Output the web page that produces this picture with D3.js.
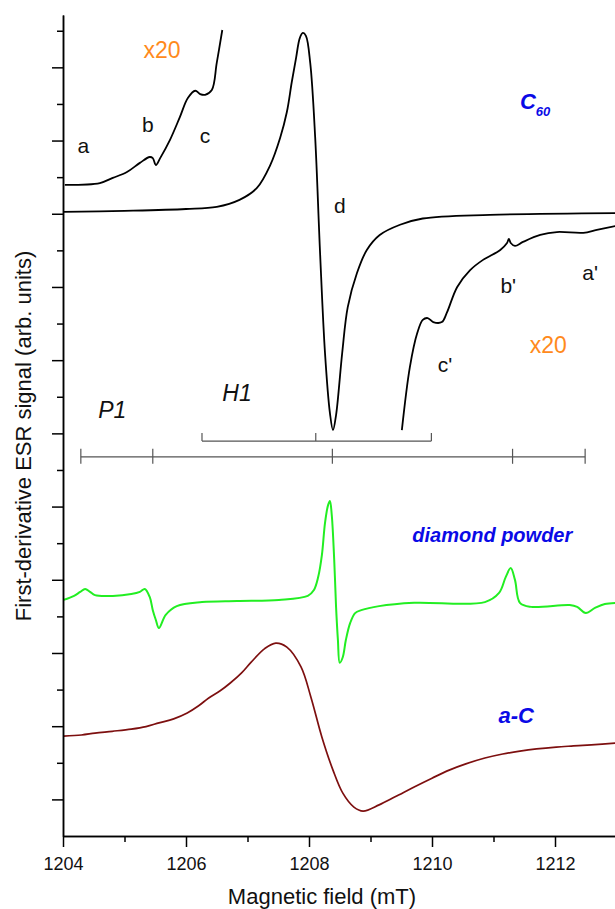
<!DOCTYPE html>
<html>
<head>
<meta charset="utf-8">
<script src="https://cdn.jsdelivr.net/npm/d3@7"></script>
<style>
  body { margin: 0; background: #fff; }
  text { font-family: "Liberation Sans", Arial, sans-serif; }
</style>
</head>
<body>
<div id="chart"></div>
<script>
// field in mT, signal in arbitrary units (one unit = one y tick step)

const c60Field = [1204.0, 1205.0, 1206.0, 1206.5, 1206.87, 1207.15, 1207.37, 1207.53, 1207.64, 1207.72,
    1207.79, 1207.85, 1207.9, 1207.95, 1208.02, 1208.1, 1208.18, 1208.26, 1208.34, 1208.39,
    1208.44, 1208.54, 1208.63, 1208.78, 1208.94, 1209.15, 1209.48, 1209.85, 1210.94, 1213.0];
const c60Signal = [17.05, 17.08, 17.13, 17.19, 17.38, 17.70, 18.33, 19.07, 19.78, 20.60,
    21.26, 21.80, 21.94, 21.86, 21.12, 19.10, 15.93, 13.20, 11.56, 11.09,
    11.50, 13.20, 14.45, 15.38, 16.01, 16.42, 16.70, 16.87, 16.97, 17.02];

const zoomLowField = [1204.03, 1204.6, 1204.81, 1205.04, 1205.25, 1205.41, 1205.46, 1205.51, 1205.58, 1205.74,
    1205.9, 1206.03, 1206.15, 1206.23, 1206.31, 1206.42, 1206.5, 1206.59];
const zoomLowSignal = [17.79, 17.84, 17.98, 18.14, 18.39, 18.55, 18.52, 18.33, 18.52, 19.02,
    19.64, 20.16, 20.36, 20.27, 20.25, 20.38, 21.12, 22.02];

const zoomHighField = [1209.51, 1209.64, 1209.76, 1209.85, 1209.93, 1210.02, 1210.16, 1210.24, 1210.41, 1210.62,
    1210.83, 1211.11, 1211.22, 1211.25, 1211.28, 1211.35, 1211.48, 1211.76, 1212.03, 1212.46,
    1212.68, 1213.0];
const zoomHighSignal = [11.09, 12.81, 13.74, 14.10, 14.15, 14.04, 14.04, 14.29, 15.00, 15.46,
    15.74, 16.01, 16.20, 16.31, 16.20, 16.12, 16.23, 16.42, 16.50, 16.48,
    16.56, 16.67];

const diamondField = [1204.01, 1204.18, 1204.28, 1204.36, 1204.44, 1204.52, 1204.81, 1205.11, 1205.25, 1205.33,
    1205.41, 1205.46, 1205.51, 1205.56, 1205.67, 1205.85, 1206.26, 1206.83, 1207.51, 1207.98,
    1208.08, 1208.15, 1208.21, 1208.26, 1208.31, 1208.34, 1208.37, 1208.41, 1208.44, 1208.47,
    1208.5, 1208.55, 1208.6, 1208.67, 1208.75, 1208.85, 1209.14, 1209.71, 1210.86, 1211.09,
    1211.2, 1211.28, 1211.35, 1211.43, 1211.61, 1212.24, 1212.36, 1212.5, 1212.65, 1212.81, 1213.0];
const diamondSignal = [6.45, 6.56, 6.67, 6.75, 6.67, 6.58, 6.56, 6.61, 6.67, 6.75,
    6.53, 6.17, 5.90, 5.68, 6.04, 6.28, 6.39, 6.42, 6.45, 6.56,
    6.72, 7.08, 7.68, 8.55, 9.04, 9.15, 8.77, 7.54, 6.26, 5.36,
    4.73, 4.89, 5.36, 5.82, 6.09, 6.17, 6.28, 6.37, 6.39, 6.64,
    7.08, 7.32, 6.99, 6.37, 6.26, 6.31, 6.26, 6.09, 6.23, 6.34, 6.37];

const aCField = [1204.01, 1204.3, 1204.52, 1204.8, 1205.11, 1205.35, 1205.56, 1205.8, 1206.02, 1206.2,
    1206.37, 1206.55, 1206.72, 1206.9, 1207.06, 1207.28, 1207.46, 1207.64, 1207.87, 1208.03,
    1208.21, 1208.39, 1208.55, 1208.73, 1208.88, 1209.14, 1209.4, 1209.71, 1210.0, 1210.28,
    1210.55, 1210.86, 1211.15, 1211.43, 1211.7, 1212.02, 1212.3, 1212.59, 1213.0];
const aCSignal = [2.73, 2.76, 2.81, 2.86, 2.92, 2.99, 3.09, 3.20, 3.36, 3.55,
    3.77, 3.96, 4.18, 4.45, 4.75, 5.12, 5.27, 5.16, 4.62, 3.80,
    2.70, 1.80, 1.17, 0.79, 0.68, 0.85, 1.07, 1.34, 1.58, 1.80,
    1.97, 2.13, 2.24, 2.32, 2.38, 2.43, 2.46, 2.49, 2.54];

// stick diagrams of line positions
const p1Lines = [1204.29, 1205.46, 1208.38, 1211.31, 1212.49];
const p1Level = 10.36;
const h1Lines = [1206.26, 1208.11, 1209.99];
const h1Level = 10.79;

const xMajorTicks = [1204, 1206, 1208, 1210, 1212];
const xMinorTicks = [1205, 1207, 1209, 1211, 1213];

const width = 615;
const height = 909;
const margin = { left: 63, right: 616.5, top: 15, bottom: 836 };

const x = d3.scaleLinear().domain([1204, 1213]).range([margin.left, margin.right]);
const y = d3.scaleLinear().domain([0, 22.43]).range([margin.bottom, margin.top]);

const svg = d3.select("#chart").append("svg")
    .attr("width", width)
    .attr("height", height);

svg.append("defs").append("clipPath")
    .attr("id", "plot-clip")
  .append("rect")
    .attr("x", margin.left).attr("y", 0)
    .attr("width", width - margin.left).attr("height", margin.bottom);

const plot = svg.append("g").attr("clip-path", "url(#plot-clip)");

function zip(xs, ys) {
    return xs.map((v, i) => [v, ys[i]]);
}

const line = d3.line()
    .x(d => x(d[0]))
    .y(d => y(d[1]))
    .curve(d3.curveCatmullRom.alpha(0.5));

const traces = [
    { data: zip(c60Field, c60Signal), color: "#000", w: 1.8 },
    { data: zip(zoomLowField, zoomLowSignal), color: "#000", w: 1.8 },
    { data: zip(zoomHighField, zoomHighSignal), color: "#000", w: 1.8 },
    { data: zip(diamondField, diamondSignal), color: "#22ee22", w: 2 },
    { data: zip(aCField, aCSignal), color: "#7d0f0f", w: 1.7 },
];

plot.selectAll("path.trace")
    .data(traces)
    .enter().append("path")
        .attr("class", "trace")
        .attr("d", d => line(d.data))
        .attr("fill", "none")
        .attr("stroke", d => d.color)
        .attr("stroke-width", d => d.w)
        .attr("stroke-linejoin", "round");

// stick diagrams
const sticks = svg.append("g")
    .attr("stroke", "#555")
    .attr("stroke-width", 1.2);

sticks.append("line")
    .attr("x1", x(d3.min(p1Lines))).attr("x2", x(d3.max(p1Lines)))
    .attr("y1", y(p1Level)).attr("y2", y(p1Level));
sticks.selectAll("line.p1")
    .data(p1Lines)
    .enter().append("line")
        .attr("class", "p1")
        .attr("x1", d => x(d)).attr("x2", d => x(d))
        .attr("y1", y(p1Level) - 8).attr("y2", y(p1Level) + 7);

sticks.append("line")
    .attr("x1", x(d3.min(h1Lines))).attr("x2", x(d3.max(h1Lines)))
    .attr("y1", y(h1Level)).attr("y2", y(h1Level));
sticks.selectAll("line.h1")
    .data(h1Lines)
    .enter().append("line")
        .attr("class", "h1")
        .attr("x1", d => x(d)).attr("x2", d => x(d))
        .attr("y1", y(h1Level) - 8).attr("y2", y(h1Level));

// axes
const yMajor = d3.range(1, 23, 2);
const yMinor = d3.range(2, 23, 2);

const axisStyle = g => {
    g.selectAll("path, line").attr("stroke", "#000").attr("stroke-width", 1.5);
    g.selectAll("text").attr("fill", "#111").style("font-size", "18px")
        .style("font-family", "'Liberation Sans', Arial, sans-serif");
};

svg.append("g")
    .attr("transform", `translate(${margin.left},0)`)
    .call(d3.axisLeft(y).tickValues(yMajor).tickSize(11).tickSizeOuter(0).tickFormat(""))
    .call(axisStyle);
svg.append("g")
    .attr("transform", `translate(${margin.left},0)`)
    .call(d3.axisLeft(y).tickValues(yMinor).tickSize(6).tickSizeOuter(0).tickFormat(""))
    .call(axisStyle);

svg.append("g")
    .attr("transform", `translate(0,${margin.bottom})`)
    .call(d3.axisBottom(x).tickValues(xMajorTicks).tickSize(11).tickSizeOuter(0).tickPadding(10).tickFormat(d3.format("d")))
    .call(axisStyle);
svg.append("g")
    .attr("transform", `translate(0,${margin.bottom})`)
    .call(d3.axisBottom(x).tickValues(xMinorTicks).tickSize(6).tickSizeOuter(0).tickFormat(""))
    .call(axisStyle);

svg.append("text")
    .attr("x", 322).attr("y", 904)
    .attr("text-anchor", "middle")
    .style("font-size", "22px")
    .attr("fill", "#111")
    .text("Magnetic field (mT)");

svg.append("text")
    .attr("transform", "translate(31,436) rotate(-90)")
    .attr("text-anchor", "middle")
    .style("font-size", "22px")
    .attr("fill", "#111")
    .text("First-derivative ESR signal (arb. units)");

// annotations
const labels = [
    { t: "x20", f: 1205.61, v: 21.26, color: "#ff8a1c", size: 23 },
    { t: "a", f: 1204.33, v: 18.66, color: "#111", size: 21 },
    { t: "b", f: 1205.38, v: 19.23, color: "#111", size: 21 },
    { t: "c", f: 1206.31, v: 18.93, color: "#111", size: 21 },
    { t: "d", f: 1208.5, v: 17.02, color: "#111", size: 21 },
    { t: "c'", f: 1210.21, v: 12.68, color: "#111", size: 21 },
    { t: "b'", f: 1211.24, v: 14.84, color: "#111", size: 21 },
    { t: "a'", f: 1212.57, v: 15.19, color: "#111", size: 21 },
    { t: "x20", f: 1211.89, v: 13.2, color: "#ff8a1c", size: 23 },
    { t: "P1", f: 1204.8, v: 11.42, color: "#111", size: 23, italic: true },
    { t: "H1", f: 1206.83, v: 11.89, color: "#111", size: 23, italic: true },
    { t: "diamond powder", f: 1210.98, v: 8.03, color: "#0a0ae6", size: 20, italic: true, bold: true },
    { t: "a-C", f: 1211.37, v: 3.09, color: "#0a0ae6", size: 22, italic: true, bold: true },
];

svg.selectAll("text.label")
    .data(labels)
    .enter().append("text")
        .attr("class", "label")
        .attr("x", d => x(d.f))
        .attr("y", d => y(d.v))
        .attr("text-anchor", "middle")
        .attr("fill", d => d.color)
        .style("font-size", d => d.size + "px")
        .style("font-style", d => d.italic ? "italic" : "normal")
        .style("font-weight", d => d.bold ? "bold" : "normal")
        .text(d => d.t);

const c60 = svg.append("text")
    .attr("x", x(1211.43))
    .attr("y", y(19.86))
    .attr("fill", "#0a0ae6")
    .style("font-size", "22px")
    .style("font-style", "italic")
    .style("font-weight", "bold");
c60.append("tspan").text("C");
c60.append("tspan")
    .attr("dy", 7)
    .style("font-size", "13px")
    .text("60");
</script>
</body>
</html>
